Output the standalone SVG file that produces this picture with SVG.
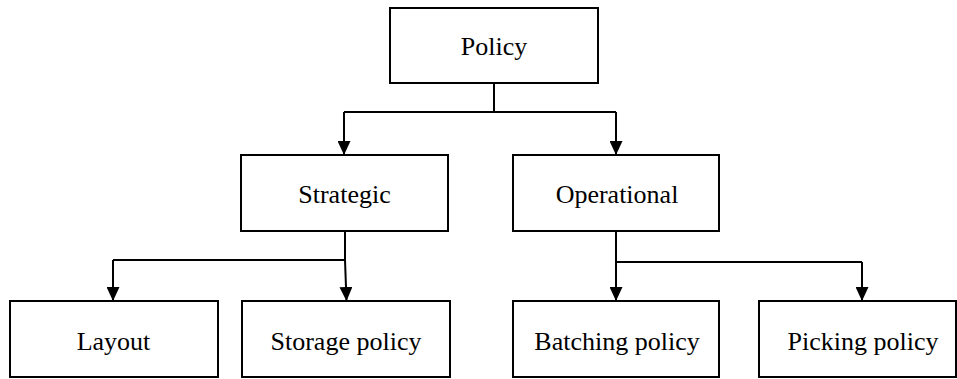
<svg xmlns="http://www.w3.org/2000/svg" width="957" height="379" viewBox="0 0 957 379">
<style>
  .box { fill: #ffffff; stroke: #000000; stroke-width: 2; }
  .lbl { font-family: "Liberation Serif", "Times New Roman", serif; font-size: 26px; fill: #000000; text-anchor: middle; }
  .ln { fill: none; stroke: #000000; stroke-width: 2; }
</style>
<defs>
  <marker id="arr" viewBox="0 0 14 13" refX="14" refY="6.5" markerWidth="14" markerHeight="13" markerUnits="userSpaceOnUse" orient="auto">
    <path d="M0,0 L14,6.5 L0,13 z" fill="#000000"/>
  </marker>
</defs>
<rect width="957" height="379" fill="#ffffff"/>
<g id="connectors">
  <path class="ln" d="M494,83 V112 M344,112 H616"/>
  <path class="ln" d="M344,112 V155" marker-end="url(#arr)"/>
  <path class="ln" d="M616,112 V155" marker-end="url(#arr)"/>
  <path class="ln" d="M345,231 V260 M113,260 H345"/>
  <path class="ln" d="M113,260 V301" marker-end="url(#arr)"/>
  <path class="ln" d="M345,260 L346.5,301" marker-end="url(#arr)"/>
  <path class="ln" d="M616,231 V262 H862"/>
  <path class="ln" d="M616,262 V301" marker-end="url(#arr)"/>
  <path class="ln" d="M862,262 V301" marker-end="url(#arr)"/>
</g>
<g id="policy">
  <rect class="box" x="390" y="8" width="208" height="75"/>
  <text class="lbl" x="494" y="55">Policy</text>
</g>
<g id="strategic">
  <rect class="box" x="241" y="155" width="207" height="76"/>
  <text class="lbl" x="344.5" y="203">Strategic</text>
</g>
<g id="operational">
  <rect class="box" x="513" y="155" width="206" height="76"/>
  <text class="lbl" x="617" y="203">Operational</text>
</g>
<g id="layout">
  <rect class="box" x="10" y="301" width="208" height="76"/>
  <text class="lbl" x="113.5" y="350">Layout</text>
</g>
<g id="storage">
  <rect class="box" x="242" y="301" width="208" height="76"/>
  <text class="lbl" x="346" y="350">Storage policy</text>
</g>
<g id="batching">
  <rect class="box" x="513" y="301" width="206" height="76"/>
  <text class="lbl" x="617" y="350">Batching policy</text>
</g>
<g id="picking">
  <rect class="box" x="759" y="301" width="197" height="76"/>
  <text class="lbl" x="863" y="350">Picking policy</text>
</g>
</svg>
